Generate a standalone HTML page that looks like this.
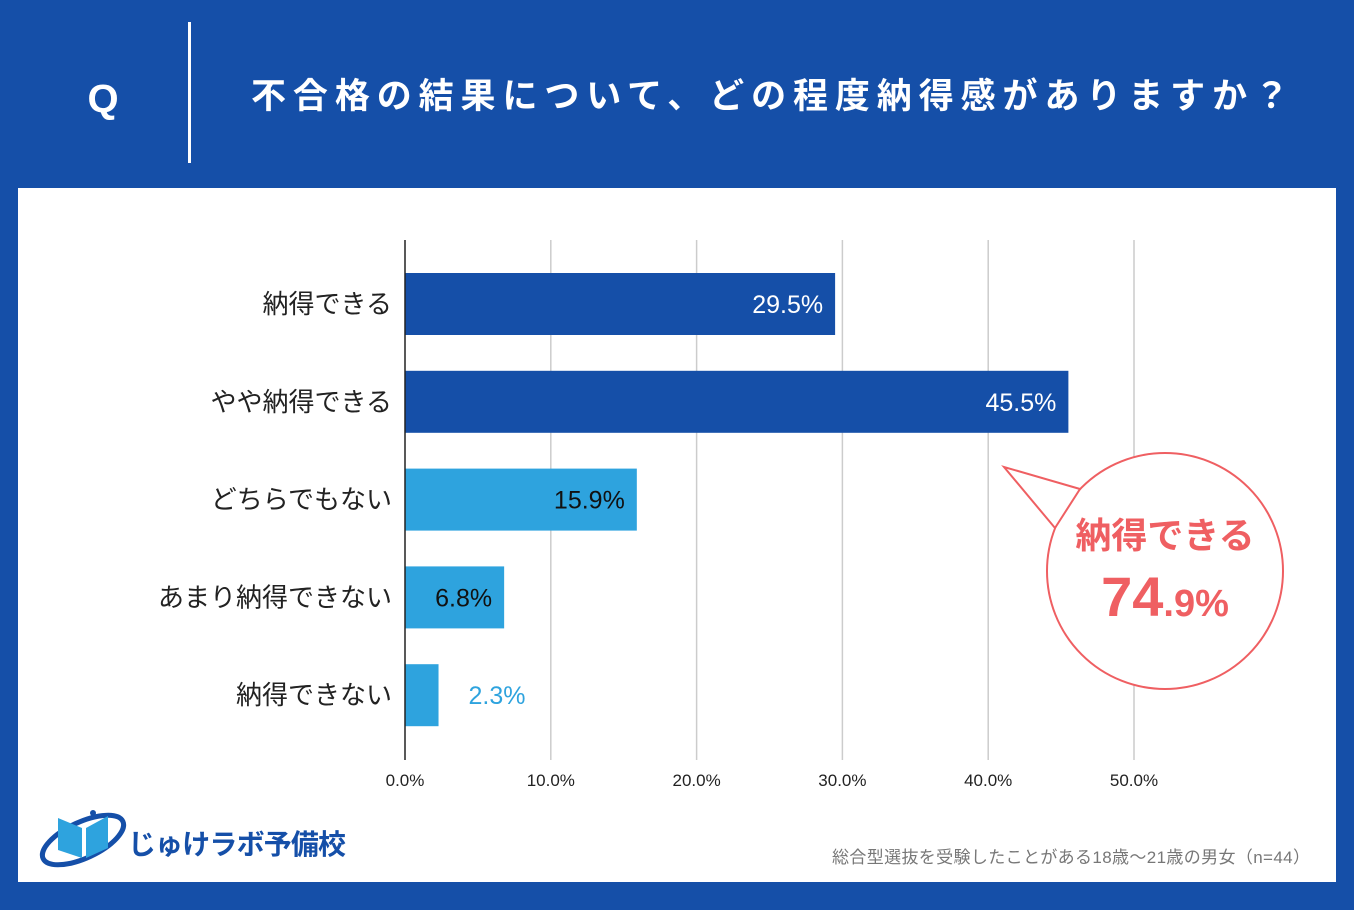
<!DOCTYPE html>
<html><head><meta charset="utf-8"><style>
body{margin:0;width:1354px;height:905px;overflow:hidden;background:#154fa8;font-family:"Liberation Sans","Noto Sans CJK JP",sans-serif}
</style></head><body>
<svg width="1354" height="905" xmlns="http://www.w3.org/2000/svg">
<rect x="0" y="0" width="1354" height="905" fill="#154fa8"/>
<text x="103" y="112" fill="#fff" font-size="40" font-weight="bold" text-anchor="middle" font-family="Liberation Sans, sans-serif">Q</text>
<rect x="188" y="22" width="3" height="141" fill="#fff"/>
<text x="251" y="108" fill="#fff" font-size="35" font-weight="bold" font-family="Liberation Sans, Noto Sans CJK JP, sans-serif" textLength="1038">不合格の結果について、どの程度納得感がありますか？</text>
<rect x="18" y="188" width="1318" height="694" fill="#fff"/>
<g id="grid"></g>
<g id="bars"></g>
<line x1="405" y1="240" x2="405" y2="760" stroke="#222" stroke-width="1.5"/>
<g>
<circle cx="1165" cy="571" r="118" fill="#fff" stroke="#ef5f62" stroke-width="2"/>
<polygon points="1080,489 1004,467 1055,528" fill="#fff" stroke="#ef5f62" stroke-width="2" stroke-linejoin="miter"/>
<polygon points="1084,491 1060,532 1075,540 1095,500" fill="#fff"/>
<text x="1165" y="548" fill="#ef5f62" font-size="36" font-weight="bold" text-anchor="middle" font-family="Liberation Sans, Noto Sans CJK JP, sans-serif">納得できる</text>
<text x="1165" y="616" fill="#ef5f62" font-weight="bold" text-anchor="middle" font-family="Liberation Sans, sans-serif"><tspan font-size="56">74</tspan><tspan font-size="38">.9%</tspan></text>
</g>
<g>
<ellipse cx="83" cy="840" rx="44" ry="18" fill="none" stroke="#154fa8" stroke-width="5" transform="rotate(-25 83 840)"/>
<polygon points="58,818 82,828 82,858 58,850" fill="#2ea3de"/>
<polygon points="86,828 108,816 108,848 86,858" fill="#2ea3de"/>
<circle cx="93" cy="813" r="3" fill="#154fa8"/>
<text x="128" y="854" fill="#154fa8" font-size="28" font-weight="bold" font-family="Liberation Sans, Noto Sans CJK JP, sans-serif" textLength="218">じゅけラボ予備校</text>
</g>
<text x="1310" y="863" fill="#777" font-size="17" text-anchor="end" font-family="Liberation Sans, Noto Sans CJK JP, sans-serif" textLength="478">総合型選抜を受験したことがある18歳～21歳の男女（n=44）</text>
</svg>
<script>
const categories=["納得できる","やや納得できる","どちらでもない","あまり納得できない","納得できない"];
const values=[29.5,45.5,15.9,6.8,2.3];
const valueLabels=["29.5%","45.5%","15.9%","6.8%","2.3%"];
const ticks=[0,10,20,30,40,50];
const tickLabels=["0.0%","10.0%","20.0%","30.0%","40.0%","50.0%"];
const NS="http://www.w3.org/2000/svg";
const x0=405,pxPer=14.58;
const xs=v=>x0+v*pxPer;
const ys=i=>304+i*97.8;
const grid=document.getElementById('grid'),bars=document.getElementById('bars');
function mk(tag,a,p){const e=document.createElementNS(NS,tag);for(const k in a)e.setAttribute(k,a[k]);p.appendChild(e);return e;}
ticks.forEach((t,i)=>{
 if(i>0){const l=mk('line',{x1:xs(t),x2:xs(t),y1:240,y2:760,stroke:'#ccc','stroke-width':1.5},grid);
 
 }
 const tx=mk('text',{x:xs(t),y:786,'text-anchor':'middle','font-size':17,fill:'#222'},grid);
 tx.textContent=tickLabels[i];
 
 
});
categories.forEach((c,i)=>{
 const y=ys(i),dark=i<2,col=dark?'#154fa8':'#2ea3de';
 const r=mk('rect',{x:x0,y:y-31,width:xs(values[i])-x0,height:62,fill:col},bars);
 
 
 const lb=mk('text',{x:392,y:y+9,'text-anchor':'end','font-size':26,fill:'#222'},bars);
 lb.textContent=c;
 
 
 const inside=values[i]>5;
 const vl=mk('text',{x:inside?xs(values[i])-12:xs(values[i])+30,y:y+9,'text-anchor':inside?'end':'start','font-size':25,fill:dark?'#fff':(inside?'#111':'#2ea3de')},bars);
 vl.textContent=valueLabels[i];
 
 
});
</script>
</body></html>
